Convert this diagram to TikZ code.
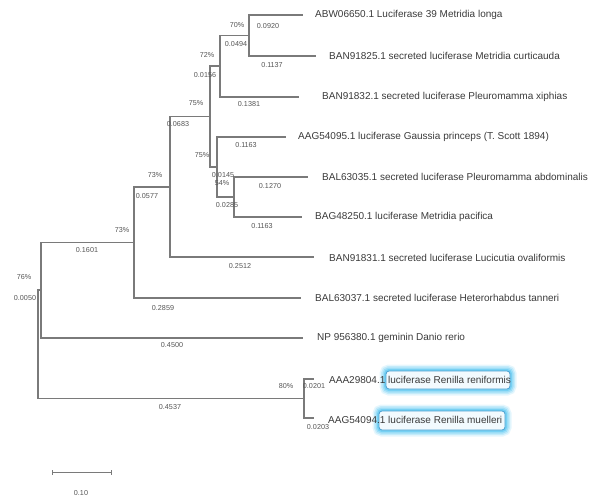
\documentclass[tikz,border=0pt]{standalone}
\usepackage{fontspec}
\setmainfont{Liberation Sans}
\definecolor{linegray}{HTML}{7A7A7A}
\definecolor{tipgray}{HTML}{3A3A3A}
\definecolor{numgray}{HTML}{555555}
\definecolor{glowblue}{HTML}{4FC3F0}
\definecolor{boxedge}{HTML}{4A9FD0}
\definecolor{boxfill}{HTML}{F2FAFE}
\begin{document}
\begin{tikzpicture}[x=1pt,y=-1pt,
  br/.style={draw=linegray,line width=1.1pt},
  tiplab/.style={anchor=west,inner sep=0pt,font=\fontsize{10}{12}\selectfont,text=tipgray},
  numlab/.style={inner sep=0pt,font=\fontsize{7.2}{8}\selectfont,text=numgray},
  glowbox/.style={rectangle,rounded corners=3pt,inner sep=0pt,fill=boxfill,draw=boxedge,line width=0.8pt,
    preaction={draw=glowblue,line width=13pt,opacity=0.15},
    preaction={draw=glowblue,line width=10pt,opacity=0.22},
    preaction={draw=glowblue,line width=7pt,opacity=0.32},
    preaction={draw=glowblue,line width=4pt,opacity=0.5}}]
\useasboundingbox (0,0) rectangle (591,502);

% highlight boxes
\node[glowbox,minimum width=124pt,minimum height=18pt] (hl1) at (448,380) {};
\node[glowbox,minimum width=126pt,minimum height=19pt] (hl2) at (442,420.5) {};

% internal nodes
\coordinate (R)  at (38,344);
\coordinate (N1) at (41,290);
\coordinate (N2) at (134,242.5);
\coordinate (N3) at (170,187);
\coordinate (N4) at (210,116.5);
\coordinate (N5) at (220,66);
\coordinate (N6) at (249,35.5);
\coordinate (N7) at (217,167);
\coordinate (N8) at (234,197);
\coordinate (N9) at (304,398.5);
% tip ends
\coordinate (t1)  at (303,15);
\coordinate (t2)  at (316,56);
\coordinate (t3)  at (299,97);
\coordinate (t4)  at (286,137);
\coordinate (t5)  at (308,177);
\coordinate (t6)  at (302,217);
\coordinate (t7)  at (314,257);
\coordinate (t8)  at (301,298);
\coordinate (t9)  at (303,338);
\coordinate (t10) at (314,379);
\coordinate (t11) at (314,418);

% branches
\draw[br] (R) |- (N1);
\draw[br] (R) |- (N9);
\draw[br] (N1) |- (N2);
\draw[br] (N1) |- (t9);
\draw[br] (N2) |- (N3);
\draw[br] (N2) |- (t8);
\draw[br] (N3) |- (N4);
\draw[br] (N3) |- (t7);
\draw[br] (N4) |- (N5);
\draw[br] (N4) |- (N7);
\draw[br] (N5) |- (N6);
\draw[br] (N5) |- (t3);
\draw[br] (N6) |- (t1);
\draw[br] (N6) |- (t2);
\draw[br] (N7) |- (t4);
\draw[br] (N7) |- (N8);
\draw[br] (N8) |- (t5);
\draw[br] (N8) |- (t6);
\draw[br] (N9) |- (t10);
\draw[br] (N9) |- (t11);

% tip labels
\node[tiplab] (L1)  at (315,15)  {ABW06650.1 Luciferase 39 Metridia longa};
\node[tiplab] (L2)  at (329,56)  {BAN91825.1 secreted luciferase Metridia curticauda};
\node[tiplab] (L3)  at (322,97)  {BAN91832.1 secreted luciferase Pleuromamma xiphias};
\node[tiplab] (L4)  at (298,137) {AAG54095.1 luciferase Gaussia princeps (T. Scott 1894)};
\node[tiplab] (L5)  at (322,177) {BAL63035.1 secreted luciferase Pleuromamma abdominalis};
\node[tiplab] (L6)  at (315,217) {BAG48250.1 luciferase Metridia pacifica};
\node[tiplab] (L7)  at (329,258) {BAN91831.1 secreted luciferase Lucicutia ovaliformis};
\node[tiplab] (L8)  at (315,298) {BAL63037.1 secreted luciferase Heterorhabdus tanneri};
\node[tiplab] (L9)  at (317,338) {NP 956380.1 geminin Danio rerio};
\node[tiplab] (L10) at (329,380) {AAA29804.1 luciferase Renilla reniformis};
\node[tiplab] (L11) at (328,420) {AAG54094.1 luciferase Renilla muelleri};

% bootstrap and branch length labels
\node[numlab] (p1) at (237,25) {70\%};
\node[numlab] (b1) at (268,26) {0.0920};
\node[numlab] (b2) at (236,44) {0.0494};
\node[numlab] (b3) at (272,65) {0.1137};
\node[numlab] (p2) at (207,55) {72\%};
\node[numlab] (b4) at (205,75) {0.0156};
\node[numlab] (b5) at (249,104) {0.1381};
\node[numlab] (p3) at (196,103) {75\%};
\node[numlab] (b6) at (178,124) {0.0683};
\node[numlab] (b7) at (246,145) {0.1163};
\node[numlab] (p4) at (202,155) {75\%};
\node[numlab] (b8) at (223,175) {0.0145};
\node[numlab] (p5) at (222,183) {54\%};
\node[numlab] (b9) at (270,186) {0.1270};
\node[numlab] (b10) at (227,205) {0.0285};
\node[numlab] (b11) at (262,226) {0.1163};
\node[numlab] (p6) at (155,175) {73\%};
\node[numlab] (b12) at (147,196) {0.0577};
\node[numlab] (b13) at (240,266) {0.2512};
\node[numlab] (p7) at (122,230) {73\%};
\node[numlab] (b14) at (87,250) {0.1601};
\node[numlab] (b15) at (163,308) {0.2859};
\node[numlab] (p8) at (24,277) {76\%};
\node[numlab] (b16) at (25,298) {0.0050};
\node[numlab] (b17) at (172,345) {0.4500};
\node[numlab] (b18) at (170,407) {0.4537};
\node[numlab] (p9) at (286,386) {80\%};
\node[numlab] (b19) at (314,386) {0.0201};
\node[numlab] (b20) at (318,427) {0.0203};

% scale bar
\coordinate (s1) at (52,472);
\coordinate (s2) at (111,472);
\draw[br,line width=0.9pt] (s1) -- (s2);
\draw[br,line width=0.9pt] ([yshift=-2.5pt]s1) -- ([yshift=2.5pt]s1);
\draw[br,line width=0.9pt] ([yshift=-2.5pt]s2) -- ([yshift=2.5pt]s2);
\node[numlab] (sc) at (81,493) {0.10};
\end{tikzpicture}
\end{document}
